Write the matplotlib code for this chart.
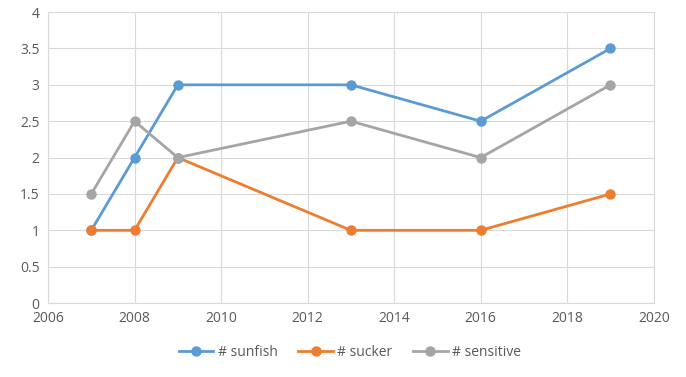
import matplotlib.pyplot as plt

years = [2007, 2008, 2009, 2013, 2016, 2019]
sunfish = [1, 2, 3, 3, 2.5, 3.5]
sucker = [1, 1, 2, 1, 1, 1.5]
sensitive = [1.5, 2.5, 2, 2.5, 2, 3]

labels = ["# sunfish", "# sucker", "# sensitive"]
colors = ["#5B9BD5", "#ED7D31", "#A5A5A5"]

plt.rcParams['font.family'] = ['Open Sans', 'DejaVu Sans']

fig = plt.figure(figsize=(6.86, 3.77), dpi=100)
ax = fig.add_axes([0.070, 0.196, 0.883, 0.772])

for y, lab, c in zip([sunfish, sucker, sensitive], labels, colors):
    ax.plot(years, y, color=c, lw=2, marker="o", ms=6.5, label=lab)

ax.set_xlim(2006, 2020)
ax.set_ylim(0, 4)
ax.set_xticks(range(2006, 2021, 2))
ax.set_yticks([0, 0.5, 1, 1.5, 2, 2.5, 3, 3.5, 4])
ax.set_yticklabels(["0", "0.5", "1", "1.5", "2", "2.5", "3", "3.5", "4"])
ax.grid(True, color="#D9D9D9", lw=0.8)
ax.set_axisbelow(True)
for s in ax.spines.values():
    s.set_color("#D9D9D9")
ax.tick_params(length=0, labelsize=10, colors="#595959", pad=6)

fig.legend(loc="center", bbox_to_anchor=(0.51, 0.066), ncol=3, frameon=False,
           fontsize=10, labelcolor="#595959", handlelength=2.5, columnspacing=1.5,
           handletextpad=0.3)

fig.savefig("out.png", dpi=100)
